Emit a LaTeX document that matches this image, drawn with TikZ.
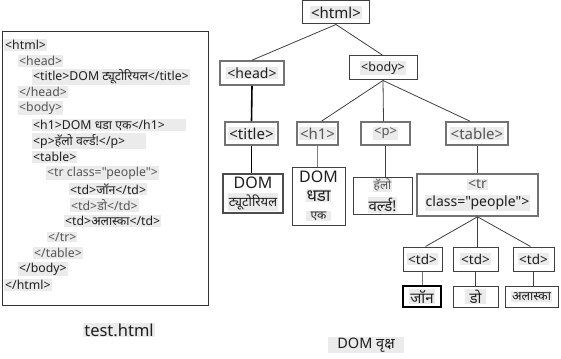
\documentclass[tikz,border=0pt]{standalone}
\usepackage{fontspec}
\setmainfont{Noto Sans}[Script=Devanagari, Ligatures=TeXOff]
\definecolor{hl}{HTML}{EBEBEB}
\definecolor{ink}{HTML}{1E1E1E}
\definecolor{soft}{HTML}{555555}
\newcommand\hlt[1]{{\setlength{\fboxsep}{1pt}\colorbox{hl}{#1}}}
\newcommand\fs[1]{\fontsize{#1}{#1}\selectfont}
\tikzset{
  codeline/.style={anchor=west, inner sep=0pt, font=\fs{12.3}, text=ink},
  softline/.style={codeline, text=soft},
  tbox/.style={draw=black!75, line width=1pt, fill=white, inner sep=1pt, font=\fs{15}, align=center, text=ink},
  gbox/.style={tbox, draw=black!55, line width=1.6pt},
  link/.style={draw=black!75, line width=0.8pt},
  boldlink/.style={draw=black, line width=1.6pt},
  caption/.style={inner sep=0pt, text=ink}
}
\begin{document}
\begin{tikzpicture}[x=1pt,y=-1pt]
\useasboundingbox (0,0) rectangle (561,358);
% left code box
\node[draw=black!80, line width=1pt, minimum width=206, minimum height=273, inner sep=0pt] (codebox) at (105,168.5) {};
\node[codeline] (l1) at (4,45) {\hlt{<html>}};
\node[softline] (l2) at (18,61) {\hlt{<head>}};
\node[codeline] (l3) at (32,77) {\hlt{<title>DOM ट्यूटोरियल</title>}};
\node[softline] (l4) at (18,92) {\hlt{</head>}};
\node[softline] (l5) at (18,108) {\hlt{<body>}};
\node[codeline] (l6) at (32,125) {\hlt{<h1>DOM धडा एक</h1>\hspace{20pt}}};
\node[codeline] (l7) at (32,141) {\hlt{<p>हॅलो वर्ल्ड!</p>\hspace{20pt}}};
\node[codeline] (l8) at (32,157) {\hlt{<table>}};
\node[softline] (l9) at (46,173) {\hlt{<tr class="people">}};
\node[codeline] (l10) at (69,189) {\hlt{<td>जॉन</td>}};
\node[softline] (l11) at (70,205) {\hlt{<td>डो</td>}};
\node[codeline] (l12) at (64,221) {\hlt{<td>अलास्का</td>}};
\node[softline] (l13) at (47,237) {\hlt{</tr>}};
\node[softline] (l14) at (33,253) {\hlt{</table>}};
\node[codeline] (l15) at (18,269) {\hlt{</body>}};
\node[codeline] (l16) at (4,285) {\hlt{</html>}};
\node[caption, font=\fs{16.5}] (cap1) at (119,330) {\hlt{test.html}};
\node[caption, font=\fs{14.5}] (cap2) at (366,345) {\hlt{\hspace{8pt}DOM वृक्ष\hspace{8pt}}};
% tree
\node[tbox, minimum width=67, minimum height=23] (html) at (336,12.5) {\hlt{<html>}};
\node[gbox, minimum width=64, minimum height=24, font=\fs{14}] (head) at (252,73) {\hlt{<head>}};
\node[tbox, minimum width=68, minimum height=24, font=\fs{12.5}] (body) at (383,68) {\hlt{<body>}};
\node[gbox, minimum width=53, minimum height=23] (title) at (251.5,133.5) {\hlt{<title>}};
\node[gbox, minimum width=41, minimum height=23, text=soft] (h1) at (317.5,133.5) {\hlt{<h1>}};
\node[gbox, minimum width=49, minimum height=23, font=\fs{13}, text=soft] (p) at (385.5,133.5) {\hlt{<p>}};
\node[gbox, minimum width=62, minimum height=23, text=soft] (table) at (477,133.5) {\hlt{<table>}};
\node[gbox, minimum width=60, minimum height=39, draw=black!70, inner sep=0pt] (ttitle) at (253,193.5) {{\fs{16}DOM}\\[3pt]\hlt{\fs{13}ट्यूटोरियल}};
\node[tbox, minimum width=53, minimum height=58, inner sep=0pt] (th1) at (318.5,196) {{\fs{16}DOM}\\[4pt]\hlt{\fs{17}धडा}\\[3pt]\hlt{\fs{12}\hspace{4pt}एक\hspace{4pt}}};
\node[tbox, minimum width=59, minimum height=37, inner sep=0pt] (tp) at (382.5,195.5) {\hlt{\fs{12}\color{soft}हॅलो}\\[4pt]\hlt{\fs{15}वर्ल्ड!}};
\node[gbox, minimum width=121, minimum height=42, font=\fs{14}, inner sep=0pt] (tr) at (477.5,195) {\hlt{\color{soft}<tr}\\[4pt]\hlt{class="people">}};
\node[tbox, minimum width=39, minimum height=24, font=\fs{13.5}] (td1) at (422.5,259) {\hlt{<td>}};
\node[tbox, minimum width=45, minimum height=24, font=\fs{13.5}] (td2) at (475.5,259) {\hlt{<td>}};
\node[tbox, minimum width=41, minimum height=24, font=\fs{13.5}] (td3) at (533.5,259) {\hlt{<td>}};
\node[tbox, minimum width=38, minimum height=21, line width=1.3pt, draw=black, font=\fs{15}] (x1) at (422,296.5) {\hlt{\bfseries जॉन}};
\node[tbox, minimum width=45, minimum height=21, font=\fs{15}] (x2) at (475.5,296.5) {\hlt{\hspace{4pt}डो\hspace{4pt}}};
\node[tbox, minimum width=53, minimum height=21, font=\fs{12.5}] (x3) at (531.5,296.5) {\hlt{अलास्का}};
% connectors
\draw[link] (html.south) -- (head.north);
\draw[link] (html.south) -- (body.north);
\draw[boldlink] (head.south) -- (title.north);
\draw[link] (body.south) -- ([xshift=4pt]h1.north);
\draw[link] (body.south) -- ([xshift=-2pt]p.north);
\draw[link] (body.south) -- ([xshift=-7pt]table.north);
\draw[boldlink] (title.south) -- (title.south |- ttitle.north);
\draw[link, draw=black!50, line width=1.4pt] (h1.south) -- (h1.south |- th1.north);
\draw[link] (p.south) -- (p.south |- tp.north);
\draw[link] (table.south) -- (table.south |- tr.north);
\draw[link] (tr.south) -- ([xshift=3pt]td1.north);
\draw[link] (tr.south) -- (tr.south |- td2.north);
\draw[link] (tr.south) -- ([xshift=-3pt]td3.north);
\draw[link, draw=black!55, line width=1.2pt] (td1.south) -- (td1.south |- x1.north);
\draw[link] (td2.south) -- (td2.south |- x2.north);
\draw[link] (td3.south) -- (td3.south |- x3.north);
\end{tikzpicture}
\end{document}
